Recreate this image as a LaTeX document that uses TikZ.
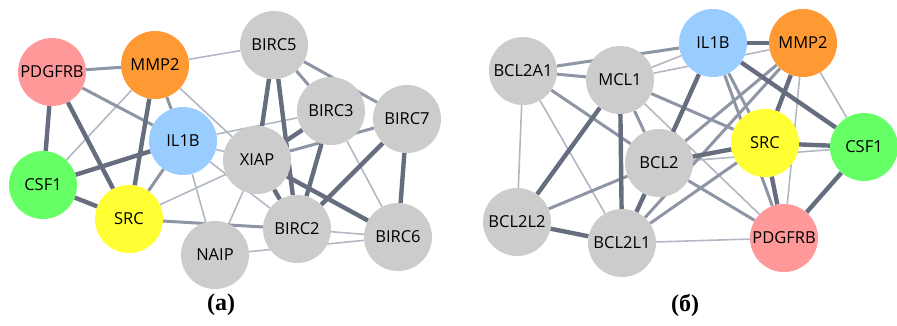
\documentclass[tikz,border=0pt]{standalone}
\usepackage{fontspec}
\setmainfont{Liberation Serif}
\newfontfamily\genefont{Open Sans}
\usepackage{xcolor}
\usepackage{tikz}
\usetikzlibrary{backgrounds}

\definecolor{genegray}{RGB}{204,204,204}
\definecolor{genepink}{RGB}{255,153,153}
\definecolor{geneorange}{RGB}{255,153,51}
\definecolor{geneblue}{RGB}{153,204,255}
\definecolor{genegreen}{RGB}{102,255,102}
\definecolor{geneyellow}{RGB}{255,255,51}
\definecolor{edgelite}{RGB}{178,184,195}
\definecolor{edgemid}{RGB}{142,149,164}
\definecolor{edgethk}{RGB}{102,109,126}

\begin{document}
\begin{tikzpicture}[x=1pt,y=-1pt,
    gene/.style={circle,fill=#1,minimum size=68pt,inner sep=0pt,
      font={\genefont\fontsize{16.5}{18}\selectfont}},
    gene/.default=genegray,
    lite/.style={line width=1.6pt,draw=edgelite},
    mid/.style={line width=3pt,draw=edgemid},
    thk/.style={line width=4.4pt,draw=edgethk},
    caption/.style={font={\bfseries\fontsize{24}{24}\selectfont}}]
    \useasboundingbox (0,0) rectangle (897,325);

    % --- panel (a): genes
    \foreach \n/\x/\y/\c in {PDGFRB/52/72/genepink,MMP2/155/65/geneorange,
      BIRC5/274/45/genegray,BIRC3/331/111/genegray,BIRC7/407/119/genegray,
      IL1B/183/141/geneblue,XIAP/257/160/genegray,CSF1/43/185/genegreen,
      SRC/129/219/geneyellow,BIRC2/297/229/genegray,BIRC6/398/237/genegray,
      NAIP/215/255/genegray}
      {\node[gene=\c] (a\n) at (\x,\y) {\n};}

    % --- panel (b): genes
    \foreach \n/\x/\y/\c in {IL1B/713/43/geneblue,MMP2/803/43/geneorange,
      BCL2A1/523/71/genegray,MCL1/620/80/genegray,SRC/765/143/geneyellow,
      CSF1/864/147/genegreen,BCL2/659/163/genegray,BCL2L2/517/222/genegray,
      BCL2L1/622/243/genegray,PDGFRB/784/238/genepink}
      {\node[gene=\c] (b\n) at (\x,\y) {\n};}

    % --- interactions (behind the genes)
    \begin{scope}[on background layer]
      % weak
      \foreach \u/\v in {MMP2/BIRC5,MMP2/CSF1,MMP2/XIAP,SRC/XIAP,IL1B/NAIP,
        IL1B/BIRC3,IL1B/XIAP,IL1B/BIRC2,NAIP/XIAP,NAIP/BIRC6,BIRC2/BIRC6,
        BIRC3/BIRC6}
        {\draw[lite] (a\u) -- (a\v);}
      % medium
      \foreach \u/\v in {PDGFRB/MMP2,PDGFRB/IL1B,MMP2/IL1B,SRC/IL1B,SRC/BIRC2,
        BIRC5/BIRC3,BIRC5/BIRC7,XIAP/BIRC7}
        {\draw[mid] (a\u) -- (a\v);}
      % strong
      \foreach \u/\v in {PDGFRB/CSF1,PDGFRB/SRC,MMP2/SRC,CSF1/IL1B,CSF1/SRC,
        XIAP/BIRC2,XIAP/BIRC6,XIAP/BIRC3,BIRC5/XIAP,BIRC5/BIRC2,BIRC3/BIRC2,
        BIRC7/BIRC2,BIRC7/BIRC6}
        {\draw[thk] (a\u) -- (a\v);}

      % weak
      \foreach \u/\v in {BCL2A1/BCL2L2,BCL2A1/BCL2L1,MCL1/IL1B,MCL1/MMP2,
        MCL1/PDGFRB,MMP2/CSF1,MMP2/PDGFRB,BCL2/CSF1,BCL2L1/PDGFRB}
        {\draw[lite] (b\u) -- (b\v);}
      % medium
      \foreach \u/\v in {BCL2A1/MCL1,BCL2A1/IL1B,BCL2A1/BCL2,MCL1/BCL2,MCL1/SRC,
        IL1B/SRC,IL1B/PDGFRB,MMP2/BCL2,MMP2/BCL2L1,BCL2/PDGFRB,BCL2/BCL2L2,
        BCL2L1/SRC}
        {\draw[mid] (b\u) -- (b\v);}
      % strong
      \foreach \u/\v in {MCL1/BCL2L2,MCL1/BCL2L1,IL1B/MMP2,IL1B/BCL2,IL1B/CSF1,
        MMP2/SRC,SRC/CSF1,SRC/PDGFRB,CSF1/PDGFRB,BCL2/SRC,BCL2/BCL2L1,
        BCL2L2/BCL2L1}
        {\draw[thk] (b\u) -- (b\v);}
    \end{scope}

    % --- captions
    \node[caption] (capa) at (221,305) {(а)};
    \node[caption] (capb) at (685,305) {(б)};
\end{tikzpicture}
\end{document}
